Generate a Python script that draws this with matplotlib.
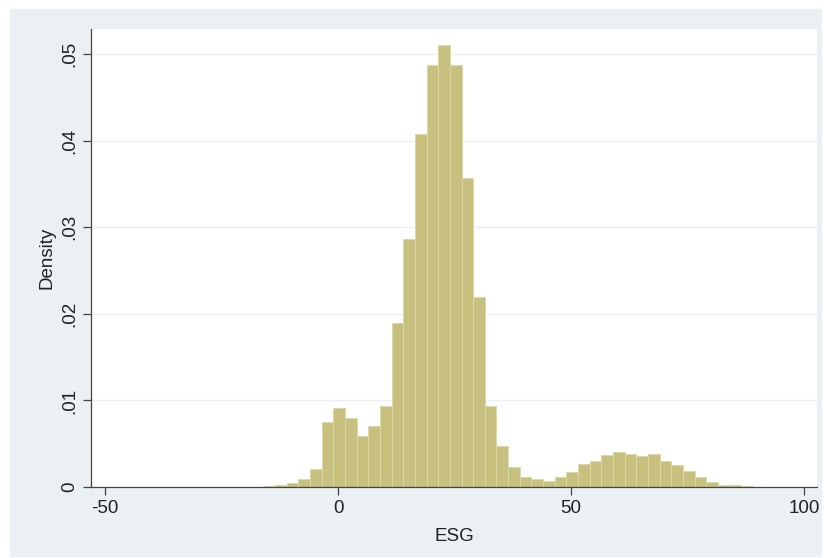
import numpy as np
import matplotlib
matplotlib.use('Agg')
import matplotlib.pyplot as plt
from matplotlib.patches import Rectangle

plt.rcParams['font.family'] = ['Liberation Sans', 'DejaVu Sans']

# histogram bins (ESG), width 2.5, and density heights
bin_start = -21.0
bin_width = 2.5
density = [0.00003, 0.00005, 0.0001, 0.00027, 0.0005, 0.0009, 0.0021,
           0.0075, 0.0091, 0.008, 0.0059, 0.0071, 0.0094,
           0.019, 0.0286, 0.0408, 0.0487, 0.0511, 0.0487, 0.0357, 0.022,
           0.0094, 0.0047, 0.0023, 0.0012, 0.0009, 0.0007,
           0.0012, 0.0017, 0.0027, 0.003, 0.0037, 0.0041, 0.0038, 0.0036,
           0.0038, 0.003, 0.0025, 0.0018, 0.0012, 0.0006,
           0.00025, 0.0002, 0.0001, 0.00005]
edges = bin_start + bin_width * np.arange(len(density) + 1)

xticks = [-50, 0, 50, 100]
yticks = [0, 0.01, 0.02, 0.03, 0.04, 0.05]
ytick_labels = ['0', '.01', '.02', '.03', '.04', '.05']

fig = plt.figure(figsize=(8.26, 5.58), dpi=100, facecolor='white')
# stata-like graph region, kept behind the axes
fig.patches.append(Rectangle((0.012, 0.002), 0.983, 0.982, transform=fig.transFigure,
                             facecolor='#eaf0f3', edgecolor='none', zorder=-10))

ax = fig.add_axes([0.1102, 0.1272, 0.879, 0.8208])
ax.set_zorder(1)
ax.set_facecolor('white')

ax.bar(edges[:-1], density, width=np.diff(edges), align='edge',
       color='#c8c07e', edgecolor='#ddd8a8', linewidth=0.7, zorder=2)

ax.set_xlim(-53, 102.8)
ax.set_ylim(0, 0.0529)

ax.set_xticks(xticks)
ax.set_xticklabels([str(t) for t in xticks])
ax.set_yticks(yticks)
ax.set_yticklabels(ytick_labels, rotation=90, va='center')

for y in yticks[1:]:
    ax.axhline(y, color='#eaf0f3', linewidth=1.0, zorder=1)

for s in ['top', 'right']:
    ax.spines[s].set_visible(False)
for s in ['left', 'bottom']:
    ax.spines[s].set_color('#444444')
    ax.spines[s].set_linewidth(0.9)

ax.tick_params(axis='both', direction='out', length=5.5, width=0.9, color='#444444',
               labelsize=13.5, labelcolor='#222222', pad=4)

ax.set_xlabel('ESG', fontsize=13.5, color='#222222', labelpad=8)
ax.set_ylabel('Density', fontsize=13.5, color='#222222', labelpad=4)

fig.savefig('out.png', dpi=100, facecolor='white')
